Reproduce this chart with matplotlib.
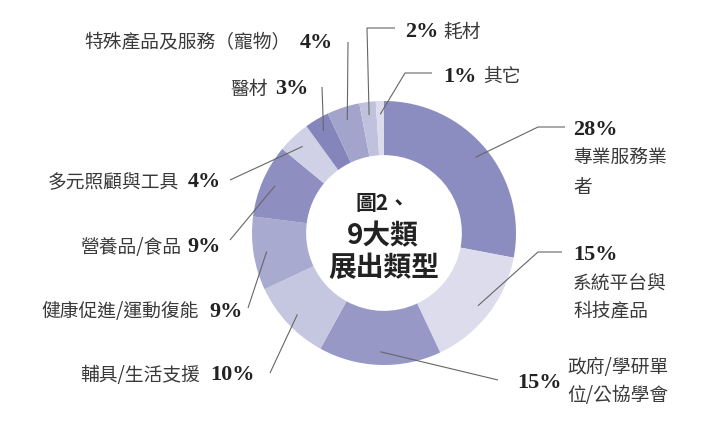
import numpy as np
import matplotlib.pyplot as plt

# share of exhibitors by category, clockwise from 12 o'clock
categories = [
    "專業服務業者", "系統平台與科技產品", "政府/學研單位/公協學會",
    "輔具/生活支援", "健康促進/運動復能", "營養品/食品",
    "多元照顧與工具", "醫材", "特殊產品及服務（寵物）", "耗材", "其它",
]
shares = [28, 15, 15, 10, 9, 9, 4, 3, 4, 2, 1]
colors = [
    "#8b8cbf", "#dcdcec", "#9798c6", "#c5c6df", "#a9aad0", "#8e8fc0",
    "#d0d1e6", "#8485ba", "#a3a4cc", "#c0c1dd", "#dcdcec",
]
pct_labels = [f"{v}%" for v in shares]

W, H = 717, 433
CX, CY, R = 384, 233, 132

CJK = ["Noto Sans CJK TC", "DejaVu Sans"]
NUM = ["Liberation Serif", "DejaVu Serif"]


def px(x, y):
    return (x - CX) / R, (CY - y) / R


fig = plt.figure(figsize=(W / 100, H / 100), dpi=100)
ax = fig.add_axes([0, 0, 1, 1])
ax.pie(shares, colors=colors, startangle=90, counterclock=False, radius=1,
       wedgeprops=dict(width=0.41, linewidth=0))
ax.set_xlim(-CX / R, (W - CX) / R)
ax.set_ylim(-(H - CY) / R, CY / R)
ax.set_aspect("equal")
ax.axis("off")

# centre title
ax.text(*px(383, 203), "圖2、", family=CJK, weight="bold", fontsize=15,
        ha="center", va="center", color="#222")
ax.text(*px(383, 236), "9大類", family=CJK, weight="bold", fontsize=20,
        ha="center", va="center", color="#222")
ax.text(*px(384, 268), "展出類型", family=CJK, weight="bold", fontsize=20,
        ha="center", va="center", color="#222")

# label layout: name text, name pos/align, pct pos/align, leader waypoints (px)
layout = [
    (["專業服務業", "者"], (573, 158), "left", (573, 130), "left",
     [(565, 127), (538, 127)]),
    (["系統平台與", "科技產品"], (573, 283), "left", (573, 255), "left",
     [(562, 252), (538, 252)]),
    (["政府/學研單", "位/公協學會"], (567, 367), "left", (517, 383), "left",
     [(498, 380)]),
    (["輔具/生活支援"], (200, 375), "right", (210, 375), "left",
     [(270, 373)]),
    (["健康促進/運動復能"], (199, 312), "right", (209, 312), "left",
     [(248, 308)]),
    (["營養品/食品"], (181, 247), "right", (187, 247), "left",
     [(230, 240)]),
    (["多元照顧與工具"], (179, 182), "right", (188, 182), "left",
     [(230, 180)]),
    (["醫材"], (268, 89), "right", (275, 89), "left",
     [(322, 87)]),
    (["特殊產品及服務（寵物）"], (291, 43), "right", (300, 43), "left",
     [(348, 42)]),
    (["耗材"], (443, 32), "left", (405, 32), "left",
     [(395, 28), (367, 28)]),
    (["其它"], (483, 77), "left", (443, 77), "left",
     [(432, 73), (405, 73)]),
]

cum = np.cumsum([0] + shares[:-1])
for i, (names, npos, nha, ppos, pha, pts) in enumerate(layout):
    mid = 90 - (cum[i] + shares[i] / 2) / sum(shares) * 360
    ang = np.deg2rad(mid)
    r_anchor = 0.9
    anchor = (r_anchor * np.cos(ang), r_anchor * np.sin(ang))
    path = [px(*p) for p in pts] + [anchor]
    xs, ys = zip(*path)
    ax.plot(xs, ys, color="#666666", lw=0.8, solid_capstyle="butt")

    for k, name in enumerate(names):
        ax.text(*px(npos[0], npos[1] + k * 29), name, family=CJK,
                fontsize=13.5, ha=nha, va="center", color="#3a3a3a")
    ax.text(*px(*ppos), pct_labels[i], family=NUM, weight="bold",
            fontsize=16, ha=pha, va="center", color="#222222")

fig.savefig("out.png", dpi=100, facecolor="white")
